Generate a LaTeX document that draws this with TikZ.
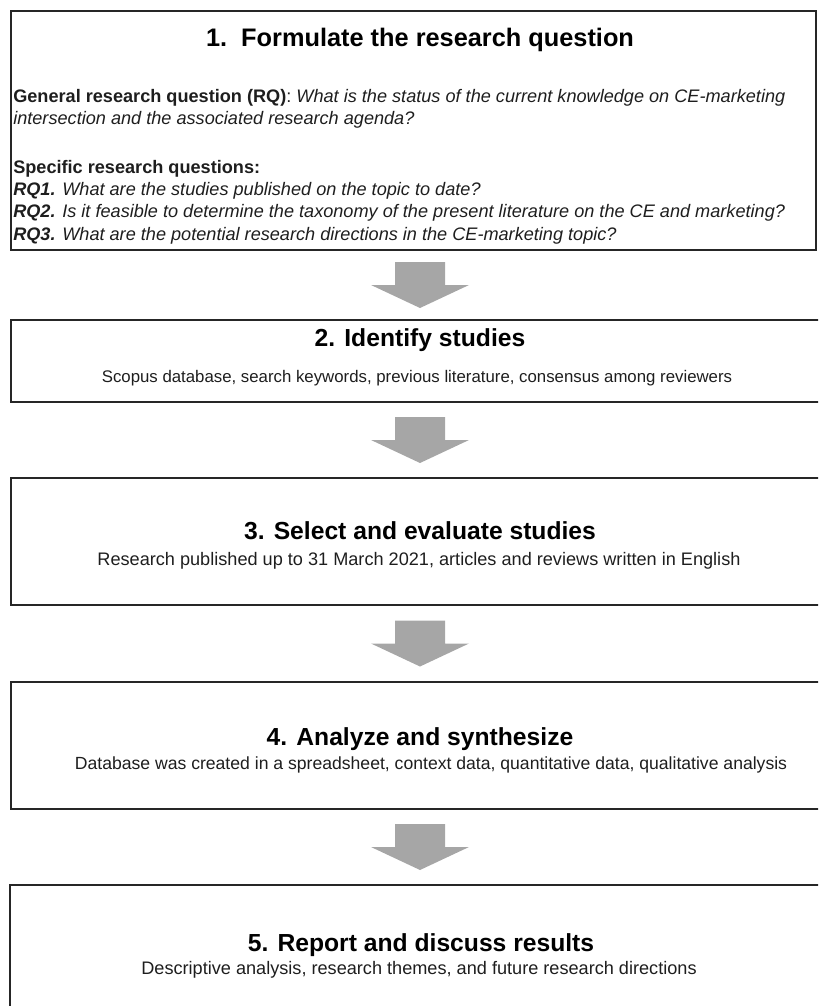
\documentclass[tikz,border=0pt]{standalone}
\usepackage{fontspec}
\setmainfont{Liberation Sans}
\usetikzlibrary{calc,fit,positioning}
\definecolor{arrowgray}{HTML}{A6A6A6}
\definecolor{boxline}{HTML}{262626}
\definecolor{inkgray}{HTML}{1E1E1E}
\begin{document}
\begin{tikzpicture}[x=0.75pt,y=-0.75pt,
  stepbox/.style={draw=boxline,line width=1.5pt,inner sep=0pt},
  steptitle/.style={font=\fontsize{18.5}{22}\selectfont\bfseries,anchor=base,inner sep=0pt},
  stepnote/.style={font=\fontsize{13.6}{16}\selectfont,text=inkgray,anchor=base,inner sep=0pt},
  rqtext/.style={font=\fontsize{13.6}{16.7}\selectfont,text=inkgray,align=left,anchor=north west,inner sep=0pt},
  flowarrow/.style={fill=arrowgray}]
\useasboundingbox (0,0) rectangle (818,1006);
\clip (0,0) rectangle (818,1006);
% the five steps
\node[stepbox,fit={(11,11) (816,250)}] (s1) {};
\node[stepbox,fit={(11,320) (829,402)}] (s2) {};
\node[stepbox,fit={(11,478) (829,605)}] (s3) {};
\node[stepbox,fit={(11,682) (829,809)}] (s4) {};
\node[stepbox,fit={(10,885) (830,1030)}] (s5) {};
% block arrows between the steps
\foreach \a/\b in {s1/s2,s2/s3,s3/s4,s4/s5}{
  \coordinate (\a top) at (\a.south -| s2.north);
  \coordinate (\a\b) at ($(\a top)!0.5!(\b.north)$);
  \fill[flowarrow] ($(\a\b)+(-25,-23)$) -- ++(50,0) -- ++(0,23) -- ++(24,0)
    -- ++(-49,23) -- ++(-49,-23) -- ++(24,0) -- cycle;
}
% step 1
\node[steptitle,font=\fontsize{19}{22}\selectfont\bfseries] (t1) at (420,47) {1.\ \ Formulate the research question};
\node[rqtext] (rqgen) at (13,89) {\textbf{General research question (RQ)}: \textit{What is the status of the current knowledge on CE-marketing}\\
  \textit{intersection and the associated research agenda?}};
\node[rqtext] (rqspec) at (13,160) {\textbf{Specific research questions:}\\
  \textbf{\textit{RQ1.}} \textit{What are the studies published on the topic to date?}\\
  \textbf{\textit{RQ2.}} \textit{Is it feasible to determine the taxonomy of the present literature on the CE and marketing?}\\
  \textbf{\textit{RQ3.}} \textit{What are the potential research directions in the CE-marketing topic?}};
% steps 2 to 5
\node[steptitle] (t2) at (420,346) {2. Identify studies};
\node[stepnote,font=\fontsize{12.6}{15}\selectfont] (n2) at (417,382) {Scopus database, search keywords, previous literature, consensus among reviewers};
\node[steptitle] (t3) at (420,539) {3. Select and evaluate studies};
\node[stepnote] (n3) at (419,565) {Research published up to 31 March 2021, articles and reviews written in English};
\node[steptitle] (t4) at (420,745) {4. Analyze and synthesize};
\node[stepnote,font=\fontsize{13.2}{16}\selectfont] (n4) at (431,769) {Database was created in a spreadsheet, context data, quantitative data, qualitative analysis};
\node[steptitle] (t5) at (421,951) {5. Report and discuss results};
\node[stepnote] (n5) at (419,974) {Descriptive analysis, research themes, and future research directions};
\end{tikzpicture}
\end{document}
